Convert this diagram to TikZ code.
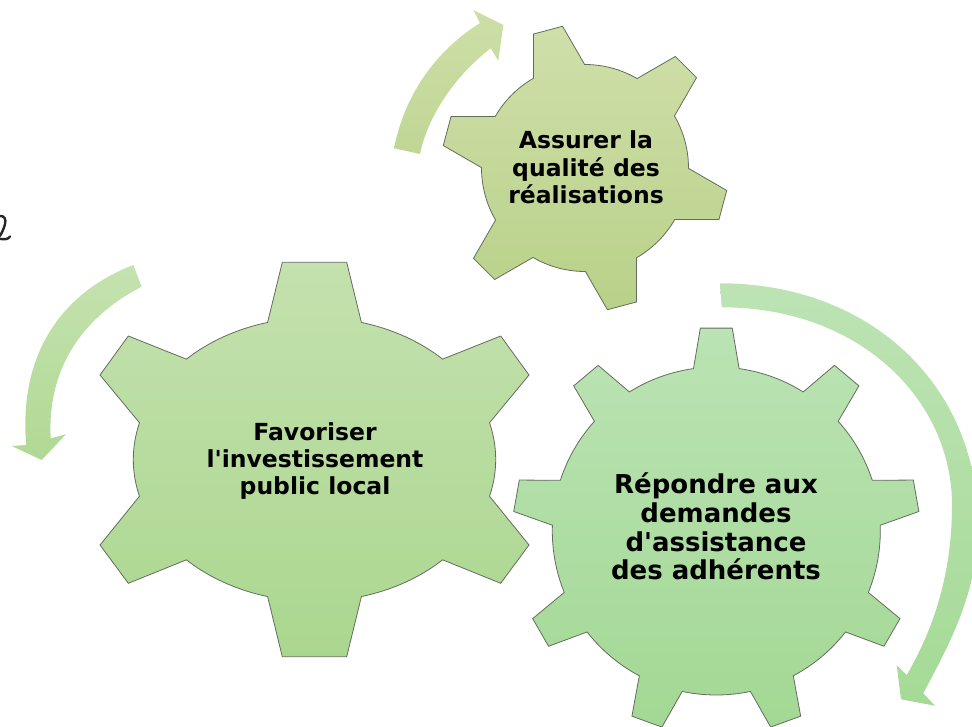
\documentclass[tikz,border=0pt]{standalone}
\usepackage{fontspec}
\setmainfont{DejaVu Sans}
\definecolor{gearline}{RGB}{100,108,94}
\definecolor{gOneTop}{RGB}{196,225,174}
\definecolor{gOneBot}{RGB}{170,215,143}
\definecolor{gTwoTop}{RGB}{208,223,170}
\definecolor{gTwoBot}{RGB}{184,209,136}
\definecolor{gThreeTop}{RGB}{187,227,180}
\definecolor{gThreeBot}{RGB}{163,216,148}
\definecolor{aOneTop}{RGB}{205,223,168}
\definecolor{aOneBot}{RGB}{192,214,148}
\definecolor{aTwoTop}{RGB}{197,226,175}
\definecolor{aTwoBot}{RGB}{176,217,148}
\definecolor{aThreeTop}{RGB}{189,227,180}
\definecolor{aThreeBot}{RGB}{165,218,150}
\begin{document}
\begin{tikzpicture}[x=1pt,y=-1pt,
  gearshape/.style={draw=gearline, line width=0.8pt, line join=miter},
  geartext/.style={align=center, text=black, inner sep=0pt},
  bigtext/.style={font=\bfseries\fontsize{23.5}{26.7}\selectfont},
  toptext/.style={font=\bfseries\fontsize{23.5}{27.5}\selectfont},
  righttext/.style={font=\bfseries\fontsize{26}{28.9}\selectfont},
  scribble/.style={line width=2.4pt, line cap=round, line join=round, black!85}]
\useasboundingbox (0,0) rectangle (972,727);
\clip (0,0) rectangle (972,727);

% handwritten fragment at the left edge
\draw[scribble] (0,216) .. controls (4,215.5) and (6.5,219) .. (5,224) .. controls (4,229) and (1.5,233) .. (0,236);
\draw[scribble] (0,238.8) .. controls (4,239.6) and (8,239.6) .. (10,236.5);

% arrows
\shade[top color=aOneTop, bottom color=aOneBot] (394,148.3) .. controls (405,93) and (437,50) .. (480,23) -- (473.3,10) -- (503.3,25) -- (498.3,60.7) -- (490.7,48.3) .. controls (456,75) and (428,115) .. (420,154) -- cycle;
\shade[top color=aTwoTop, bottom color=aTwoBot] (133.3,265) .. controls (56,295) and (19,360) .. (26.2,445) -- (11.7,446) -- (41.7,460) -- (66,434.3) -- (50.7,438.3) .. controls (47,370) and (81,318) .. (141.7,286.7) -- cycle;
\shade[top color=aThreeTop, bottom color=aThreeBot] (720,283.3) .. controls (870,283.3) and (978,385) .. (978,525) .. controls (978,595) and (947,648) .. (923.3,693.3) -- (935,705.7) -- (901,699.3) -- (896.7,665) -- (906.7,675) .. controls (930,635) and (952,580) .. (952,505) .. controls (952,400) and (860,307.3) .. (721.7,307.3) -- cycle;

% left gear
\begin{scope}[shift={(314.5,459.5)}]
\path[gearshape, top color=gOneTop, bottom color=gOneBot] ({181.2*cos(-105)},{141.9*sin(-105)})
  \foreach \c/\ax/\ay/\bx/\by in {-90/-32.2/-197.2/32.2/-197.2, -30/186.2/-123.5/214.5/-84.5, 30/214.5/85.5/186.2/123.8, 90/32.2/197.2/-32.2/197.2, 150/-186.2/123.8/-214.5/85.5, 210/-214.5/-84.5/-186.2/-123.5}
  { -- (\ax,\ay) -- (\bx,\by) -- ({181.2*cos(\c+15)},{141.9*sin(\c+15)}) arc[start angle={\c+15}, end angle={\c+45}, x radius=181.2, y radius=141.9] } -- cycle;
\end{scope}

% top gear
\begin{scope}[shift={(585,168)}]
\path[gearshape, top color=gTwoTop, bottom color=gTwoBot] (-119.8:103.5)
  \foreach \k in {0,...,5}
  { -- ({-105+60*\k-6}:143.5) -- ({-105+60*\k+6}:143.5) -- ({-105+60*\k+14.8}:103.5) arc[start angle={-105+60*\k+14.8}, end angle={-105+60*\k+45.2}, radius=103.5] } -- cycle;
\end{scope}

% right gear
\begin{scope}[shift={(716.3,531)}]
\path[gearshape, top color=gThreeTop, bottom color=gThreeBot] (-98:164)
  \foreach \k in {0,...,8}
  { -- ({-90+40*\k-4.5}:203.5) -- ({-90+40*\k+4.5}:203.5) -- ({-90+40*\k+8}:164) arc[start angle={-90+40*\k+8}, end angle={-90+40*\k+32}, radius=164] } -- cycle;
\end{scope}

\node[geartext, bigtext] (favoriser) at (315,461) {Favoriser\\l\textquotesingle investissement\\public local};
\node[geartext, toptext] (assurer) at (586,167.5) {Assurer la\\qualité des\\réalisations};
\node[geartext, righttext] (repondre) at (716,526.4) {Répondre aux\\demandes\\d\textquotesingle assistance\\des adhérents};
\end{tikzpicture}
\end{document}
